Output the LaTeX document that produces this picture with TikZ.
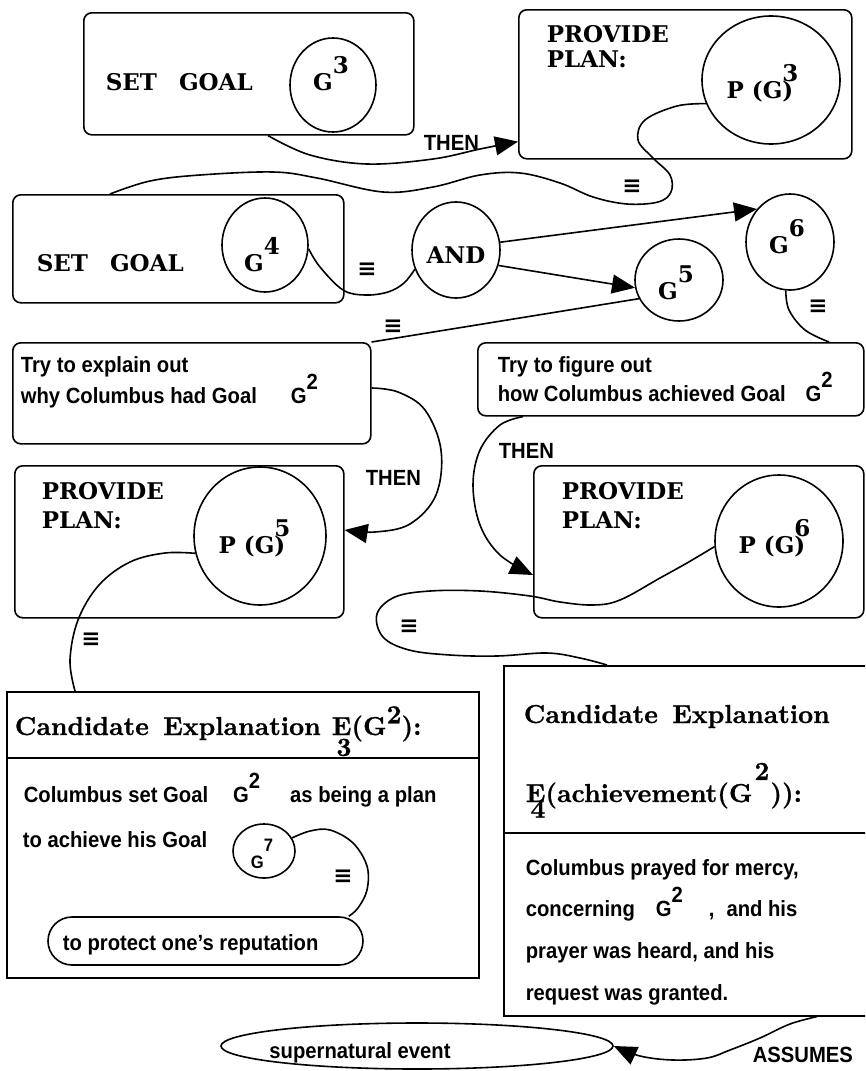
\documentclass[tikz,border=0pt]{standalone}
\usepackage{fontspec}
\newfontfamily\nsans[FakeStretch=0.92]{Liberation Sans}
\newfontfamily\wideserif{DejaVu Serif}
\newfontfamily\lmbx[FakeBold=0.8]{lmroman10-bold.otf}
\newfontfamily\symb{DejaVu Sans}
\usetikzlibrary{shapes.geometric,arrows.meta,calc}

% raised / lowered indices drawn at full size
\newcommand\upidx[2][0.62em]{\raisebox{#1}{#2}}
\newcommand\dnidx[2][0.6em]{\raisebox{-#1}{#2}}

\begin{document}
\begin{tikzpicture}[x=1pt,y=-1pt,line width=1.6pt,
  rbox/.style={draw,rounded corners=8pt,inner sep=0pt,anchor=north west},
  sbox/.style={draw,inner sep=0pt,anchor=north west},
  goal/.style={draw,ellipse,inner sep=0pt},
  serif/.style={font=\wideserif\bfseries\fontsize{23}{27}\selectfont,inner sep=0pt},
  title/.style={font=\lmbx\fontsize{26}{30}\selectfont,inner sep=0pt},
  sans/.style={font=\nsans\bfseries\fontsize{22}{26}\selectfont,inner sep=0pt},
  eqv/.style={font=\symb\bfseries\fontsize{23}{26}\selectfont,inner sep=0pt},
  arr/.style={-{Triangle[length=23pt,width=19pt]}},
  wavy/.style={smooth,tension=0.6}]

\useasboundingbox (0,0) rectangle (865,1071);
\fill[white] (0,0) rectangle (865,1071);
\clip (0,0) rectangle (865,1071);

% ---- boxes ----
\node[rbox,minimum width=330pt,minimum height=122pt] (b1) at (83,12) {};
\node[rbox,minimum width=333pt,minimum height=149pt] (b2) at (518,9) {};
\node[rbox,minimum width=331pt,minimum height=108pt] (b3) at (12,194) {};
\node[rbox,minimum width=358pt,minimum height=101pt] (b5) at (12,342) {};
\node[rbox,minimum width=386pt,minimum height=73pt] (b6) at (477,342) {};
\node[rbox,minimum width=329pt,minimum height=152pt] (b7) at (14,465) {};
\node[rbox,minimum width=330pt,minimum height=152pt] (b8) at (533,465) {};
\node[sbox,minimum width=472pt,minimum height=286pt] (b9) at (6,691) {};
\node[sbox,minimum width=380pt,minimum height=350pt] (b10) at (503,665) {};
\draw ($(b9.north west)+(0,67)$) -- ($(b9.north east)+(0,67)$);
\draw ($(b10.north west)+(0,168)$) -- ($(b10.north east)+(0,168)$);

% ---- goal circles ----
\node[goal,minimum width=86pt,minimum height=94pt] (g3) at (333,85) {};
\node[goal,minimum width=138pt,minimum height=128pt] (pg3) at (771,80) {};
\node[goal,minimum width=86pt,minimum height=94pt] (g4) at (265,245) {};
\node[goal,minimum width=88pt,minimum height=96pt] (and) at (456,250) {};
\node[goal,minimum width=88pt,minimum height=96pt] (g6) at (790,242) {};
\node[goal,minimum width=88pt,minimum height=82pt] (g5) at (679,280) {};
\node[goal,minimum width=132pt,minimum height=138pt] (pg5) at (260,536) {};
\node[goal,minimum width=128pt,minimum height=132pt] (pg6) at (779,541) {};
\node[goal,minimum width=62pt,minimum height=54pt] (g7) at (264,851) {};
\node[draw,rounded corners=24pt,minimum width=315pt,minimum height=48pt,inner sep=0pt] (stad) at (205.5,941) {};
\node[goal,minimum width=392pt,minimum height=46pt] (sev) at (417,1046) {};

% ---- texts ----
\node[serif,anchor=base west] (t1) at (105,90) {SET\hspace{22pt}GOAL};
\node[serif,anchor=base] (tg3) at (331,90) {G\upidx[0.72em]{3}};
\node[serif,anchor=base west] (t2a) at (546,42) {PROVIDE};
\node[serif,anchor=base west] (t2b) at (546,67) {PLAN:};
\node[serif,anchor=base] (tpg3) at (760,98) {P (G\rlap{\upidx[0.72em]{3}})};
\node[serif,anchor=base west] (t3) at (36,271) {SET\hspace{22pt}GOAL};
\node[serif,anchor=base] (tg4) at (262,271) {G\upidx[0.72em]{4}};
\node[serif,anchor=base] (tand) at (456,263) {AND};
\node[serif,anchor=base] (tg6) at (787,253) {G\upidx[0.72em]{6}};
\node[serif,anchor=base] (tg5) at (676,299) {G\upidx[0.72em]{5}};
\node[sans,anchor=base west] (t5a) at (20,372) {Try to explain out};
\node[sans,anchor=base west] (t5b) at (20,403) {why Columbus had Goal\hspace{34pt}G\upidx{2}};
\node[sans,anchor=base west] (t6a) at (497,372) {Try to figure out};
\node[sans,anchor=base west] (t6b) at (497,401) {how Columbus achieved Goal\hspace{20pt}G\upidx{2}};
\node[serif,anchor=base west] (t7a) at (41,499) {PROVIDE};
\node[serif,anchor=base west] (t7b) at (41,528) {PLAN:};
\node[serif,anchor=base] (tpg5) at (252,553) {P (G\rlap{\upidx[0.72em]{5}})};
\node[serif,anchor=base west] (t8a) at (561,499) {PROVIDE};
\node[serif,anchor=base west] (t8b) at (561,528) {PLAN:};
\node[serif,anchor=base] (tpg6) at (772,553) {P (G\rlap{\upidx[0.72em]{6}})};
\node[sans,anchor=base west] (then1) at (423,150) {THEN};
\node[sans,anchor=base west] (then2) at (365,485) {THEN};
\node[sans,anchor=base west] (then3) at (498,458) {THEN};
\node[sans,anchor=base west] (assm) at (752,1062) {ASSUMES};

\node[title,anchor=base west] (t9) at (14,735) {Candidate\hspace{0.55em}Explanation};
\node[title,anchor=base west] (t9e) at (331,735) {E\llap{\dnidx[0.8em]{3}}(G\upidx[0.45em]{2}):};
\node[sans,anchor=base west] (t9a) at (23,802) {Columbus set Goal\hspace{25pt}G\upidx{2}\hspace{30pt}as being a plan};
\node[sans,anchor=base west] (t9b) at (22,847) {to achieve his Goal};
\node[sans,anchor=base,font=\nsans\bfseries\fontsize{18}{20}\selectfont] (tg7) at (262,868) {G\upidx[0.9em]{7}};
\node[sans,anchor=base west] (tstad) at (62,950) {to protect one’s reputation};

\node[title,anchor=base west] (t10) at (523,723) {Candidate\hspace{0.55em}Explanation};
\node[title,anchor=base west] (t10e) at (525,802) {E\llap{\dnidx[0.6em]{4}}(achievement(G\hspace{2pt}\upidx[0.85em]{2}\hspace{1pt})):};
\node[sans,anchor=base west] (t10a) at (525,875) {Columbus prayed for mercy,};
\node[sans,anchor=base west] (t10b) at (525,916) {concerning\hspace{21pt}G\upidx{2}\hspace{26pt},\hspace{12pt}and his};
\node[sans,anchor=base west] (t10c) at (525,958) {prayer was heard, and his};
\node[sans,anchor=base west] (t10d) at (525,1000) {request was granted.};
\node[sans,anchor=base] (tsev) at (360,1058) {supernatural event};

% ---- equivalence marks ----
\node[eqv] (e1) at (632,187) {≡};
\node[eqv] (e2) at (367,270) {≡};
\node[eqv] (e3) at (393,327) {≡};
\node[eqv] (e4) at (818,307) {≡};
\node[eqv] (e5) at (91,640) {≡};
\node[eqv] (e6) at (409,627) {≡};
\node[eqv] (e7) at (343,877) {≡};

% ---- attachment points on box borders ----
\coordinate (c1) at ($(b1.south west)+(185,0)$);
\coordinate (c2) at ($(b2.south west)+(0,-18)$);
\coordinate (c3) at ($(b3.north west)+(98,0)$);
\coordinate (c5) at ($(b5.north east)+(0,46)$);
\coordinate (c6) at ($(b6.north west)+(352,0)$);
\coordinate (c6b) at ($(b6.south west)+(46,0)$);
\coordinate (c7) at ($(b7.north east)+(0,65)$);
\coordinate (c8) at ($(b8.north west)+(0,110)$);
\coordinate (c9) at ($(b9.north west)+(69,0)$);
\coordinate (c10) at ($(b10.north west)+(104,0)$);
\coordinate (c11) at ($(stad.north east)+(-15,0)$);
\coordinate (c12) at ($(b10.south west)+(314,0)$);

% ---- connectors ----
\draw[arr] plot[wavy] coordinates {(c1) (310,155) (367,164) (433,159) (480,149) (c2)};
\draw plot[wavy] coordinates {(pg3.200) (677,106) (645,120) (638,140) (653,158) (670,175) (671,192) (658,202) (627,204) (593,197) (560,183) (520,173) (480,175) (433,187) (383,192) (317,178) (273,172) (200,175) (150,181) (c3)};
\draw plot[wavy] coordinates {(g4.-5) (320,267) (343,290) (365,295) (388,292) (404,283) (and.205)};
\draw[arr] (and.10) -- (g6.135);
\draw[arr] (and.-20) -- (g5.190);
\draw (g5.205) -- (b5.north east);
\draw plot[wavy] coordinates {(g6.265) (789,310) (805,330) (c6)};
\draw[arr] plot[wavy] coordinates {(c5) (398,392) (425,410) (441,450) (436,495) (410,524) (375,532) (c7)};
\draw[arr] plot[wavy] coordinates {(c6b) (500,425) (480,450) (473,485) (480,525) (500,555) (c8)};
\draw plot[wavy] coordinates {(pg5.195) (165,553) (130,562) (99,585) (78,620) (70,660) (c9)};
\draw plot[wavy] coordinates {(pg6.185) (687,563) (660,578) (620,600) (593,605) (560,602) (530,596) (480,591) (430,591) (395,597) (377,614) (383,637) (409,650) (450,655) (497,656) (547,653) (580,658) (c10)};
\draw plot[wavy] coordinates {(g7.25) (310,831) (330,830) (353,843) (367,866) (367,890) (358,908) (c11)};
\draw[arr] plot[wavy] coordinates {(c12) (790,1024) (760,1038) (730,1050) (707,1058) (673,1060) (640,1056) (sev.east)};
\end{tikzpicture}
\end{document}
